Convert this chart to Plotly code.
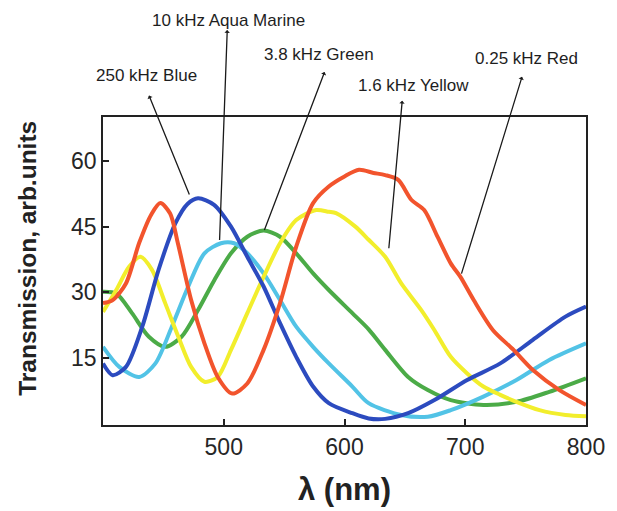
import plotly.graph_objects as go

# Transmission spectra (arb. units) versus wavelength (nm) for five drive frequencies
red_nm = [400, 408, 419, 430, 440, 447.5, 455.6, 462, 473, 484, 495, 507, 519.5, 533, 546.6,
          560, 574, 587, 600, 612, 624, 633.7, 644.5, 655.5, 666, 677, 688, 696, 707, 723,
          740, 756, 778, 800]
red_t = [27.5, 28.2, 32, 41.3, 47.8, 50.4, 48, 41.2, 28.2, 18.3, 10.6, 6.8, 9.1, 16.8, 27.5,
         40.4, 50.4, 54.2, 56.5, 58, 57.3, 56.8, 55.7, 51.1, 48.8, 42.7, 36.6, 33.5, 28.2, 21.3,
         16.8, 12.2, 7.6, 4.2]

blue_nm = [400, 408, 419, 432.5, 446, 460, 470, 478.7, 492, 506, 519.5, 533, 546.6, 560, 574,
           587, 606.5, 620, 633.7, 652.7, 674.5, 701.6, 729, 756, 783, 800]
blue_t = [13.7, 11, 12.9, 22.1, 35.1, 45.8, 50.2, 51.5, 50, 45, 38.1, 31.3, 22.9, 15.2, 8.4,
          4.6, 2.3, 1.1, 1.0, 2.3, 5.3, 9.9, 13.7, 19.1, 24.4, 26.7]

aqua_nm = [400, 413.5, 430, 443.4, 457, 470.6, 484, 497.7, 508.6, 519.5, 533, 546.6, 560, 574,
           587, 606.5, 620, 647, 669, 688, 715, 742.4, 769.6, 800]
aqua_t = [17.5, 12.9, 10.6, 13.7, 22.1, 31.3, 38.9, 41.2, 41.2, 38.9, 34.3, 28.2, 22.1, 17.5,
          13.7, 8.4, 4.6, 1.9, 1.5, 3.0, 6.1, 9.9, 14.5, 18.3]

green_nm = [400, 411, 424, 438, 451.5, 465, 478.7, 492.3, 506, 519.5, 533, 546.6, 560, 574,
            587, 606.5, 620, 633.7, 652.7, 669, 688, 715, 742.4, 769.6, 800]
green_t = [30.1, 29.7, 25.2, 19.8, 17.5, 19.8, 25.9, 32.8, 38.9, 42.7, 44.1, 42.7, 38.9, 34.3,
           30.5, 25.2, 21.5, 16.8, 10.6, 7.6, 5.3, 4.2, 4.9, 7.2, 10.3]

yellow_nm = [400, 411, 421.6, 431, 440.6, 451.5, 462.4, 473, 484, 495, 506, 519.5, 533, 546.6,
             560, 576.5, 587, 593, 609, 620, 633.7, 647, 663.6, 674.5, 688, 701.6, 715, 729,
             742.4, 761.5, 783, 800]
yellow_t = [25.5, 30.5, 35.8, 38.1, 35.1, 27.5, 19.8, 12.9, 9.5, 10.6, 16.8, 25.2, 33.5, 41.2,
            46.5, 48.8, 48.4, 48.1, 45, 42, 38.1, 32, 25.9, 21.3, 15.2, 11.4, 8.4, 6.5,
            4.9, 3.0, 1.9, 1.6]

x_ticks = [500, 600, 700, 800]
y_ticks = [15, 30, 45, 60]

series = [
    ("3.8 kHz Green", green_nm, green_t, "#4bab47"),
    ("10 kHz Aqua Marine", aqua_nm, aqua_t, "#52c3e6"),
    ("1.6 kHz Yellow", yellow_nm, yellow_t, "#f2ee2c"),
    ("250 kHz Blue", blue_nm, blue_t, "#2c4bbf"),
    ("0.25 kHz Red", red_nm, red_t, "#f2542d"),
]

fig = go.Figure()
for name, xs, ys, col in series:
    fig.add_trace(go.Scatter(
        x=xs, y=ys, name=name, mode="lines",
        line=dict(color=col, width=4, shape="spline", smoothing=0.8),
        showlegend=False, hoverinfo="skip",
    ))

# Curve labels (placed above the frame, paper coords) and their leader lines
# (from just under the label down to a point on the curve, data coords)
labels = [
    ("250 kHz Blue", 0.091, 1.136, (438.1, 75.0), (472, 52.0)),
    ("10 kHz Aqua Marine", 0.259, 1.313, (502.9, 90.0), (496.5, 41.6)),
    ("3.8 kHz Green", 0.447, 1.202, (583.5, 80.4), (533.2, 43.9)),
    ("1.6 kHz Yellow", 0.642, 1.102, (647.8, 73.8), (636.6, 39.7)),
    ("0.25 kHz Red", 0.877, 1.191, (747.0, 79.3), (696.5, 33.9)),
]
ann_font = dict(family="Arial, Liberation Sans", size=17, color="#1e1e1e")
annotations = []
for text, tx, ty, top, end in labels:
    annotations.append(dict(
        x=tx, y=ty, xref="paper", yref="paper", text=text, showarrow=False,
        font=ann_font, xanchor="center", yanchor="middle",
    ))
    annotations.append(dict(
        x=top[0], y=top[1], xref="x", yref="y", ax=end[0], ay=end[1],
        axref="x", ayref="y", text="", showarrow=True,
        arrowhead=1, arrowsize=0.7, arrowwidth=1.3, arrowcolor="#1a1a1a",
    ))

# Axis titles
annotations.append(dict(
    x=-0.155, y=0.54, xref="paper", yref="paper", text="<b>Transmission, arb.units</b>",
    textangle=-90, showarrow=False, xanchor="center", yanchor="middle",
    font=dict(family="Arial, Liberation Sans", size=24.5, color="#222222"),
))
annotations.append(dict(
    x=0.499, y=-0.211, xref="paper", yref="paper", text="<b>λ (nm)</b>",
    showarrow=False, xanchor="center", yanchor="middle",
    font=dict(family="Arial, Liberation Sans", size=31, color="#222222"),
))

axis_common = dict(
    showgrid=False, zeroline=False, showline=True, linecolor="#222222", linewidth=1.8,
    mirror=True, ticks="inside", ticklen=6, tickwidth=1.5, tickcolor="#222222",
    tickfont=dict(family="Arial, Liberation Sans", size=23, color="#262626"),
)

fig.update_layout(
    width=617, height=511,
    margin=dict(l=103, r=23, t=117, b=86),
    paper_bgcolor="white", plot_bgcolor="white",
    xaxis=dict(range=[400, 800], tickvals=x_ticks, **axis_common),
    yaxis=dict(range=[-0.4, 70.1], tickvals=y_ticks, **axis_common),
    annotations=annotations,
)

fig.write_html("out.html")
